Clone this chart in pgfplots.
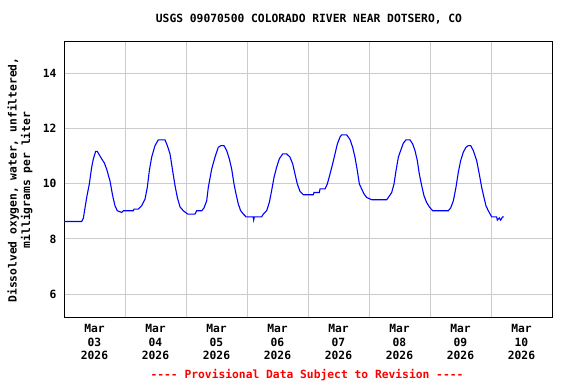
\documentclass[border=0pt]{standalone}
\usepackage{fontspec}
\usepackage{pgfplots}
\pgfplotsset{compat=1.18}
\newfontfamily\monofont{DejaVu Sans Mono}
\newcommand\mf{\monofont\bfseries\fontsize{11.3}{13.6}\selectfont}
\pgfplotstableread{
d v
0 8.63
0.29 8.63
0.317 8.75
0.372 9.5
0.415 9.99
0.454 10.6
0.481 10.9
0.519 11.17
0.546 11.17
0.590 11.0
0.661 10.75
0.699 10.53
0.754 10.1
0.798 9.56
0.836 9.2
0.874 9.02
0.945 8.96
0.973 9.02
1.137 9.02
1.148 9.08
1.219 9.08
1.273 9.2
1.328 9.44
1.366 9.87
1.399 10.47
1.437 10.96
1.492 11.38
1.546 11.59
1.656 11.59
1.694 11.38
1.738 11.08
1.781 10.47
1.820 9.93
1.858 9.5
1.902 9.16
1.956 9.02
2.027 8.9
2.148 8.9
2.175 9.02
2.257 9.02
2.295 9.12
2.339 9.38
2.366 9.87
2.421 10.53
2.475 10.96
2.530 11.32
2.574 11.38
2.623 11.38
2.667 11.2
2.710 10.9
2.749 10.53
2.787 9.99
2.820 9.63
2.858 9.26
2.896 9.02
2.940 8.9
2.984 8.8
3.10 8.8
3.11 8.68
3.12 8.8
3.240 8.8
3.268 8.9
3.322 9.02
3.366 9.32
3.404 9.75
3.443 10.23
3.486 10.6
3.530 10.9
3.585 11.08
3.650 11.08
3.705 10.96
3.749 10.72
3.787 10.35
3.825 9.99
3.869 9.72
3.924 9.6
4.087 9.6
4.098 9.68
4.186 9.68
4.197 9.81
4.279 9.81
4.317 9.99
4.361 10.35
4.404 10.72
4.443 11.08
4.481 11.44
4.525 11.69
4.552 11.77
4.634 11.77
4.689 11.6
4.732 11.32
4.770 10.96
4.809 10.47
4.842 9.99
4.880 9.81
4.918 9.63
4.962 9.5
5.044 9.42
5.290 9.42
5.317 9.5
5.372 9.68
5.410 9.99
5.443 10.47
5.481 10.96
5.519 11.2
5.563 11.47
5.607 11.59
5.672 11.59
5.716 11.44
5.754 11.2
5.792 10.84
5.825 10.35
5.864 9.93
5.902 9.56
5.945 9.32
5.989 9.16
6.044 9.02
6.300 9.02
6.339 9.12
6.383 9.38
6.426 9.87
6.464 10.41
6.503 10.84
6.546 11.14
6.590 11.32
6.628 11.38
6.667 11.38
6.710 11.2
6.765 10.84
6.808 10.35
6.847 9.87
6.885 9.5
6.918 9.2
6.956 9.02
7.011 8.8
7.093 8.8
7.104 8.68
7.137 8.76
7.158 8.68
7.191 8.8
7.213 8.8
}\dotable
\begin{document}
\begin{tikzpicture}[x=1pt,y=1pt]
\path[use as bounding box] (0,0) rectangle (576,384);
\begin{axis}[at={(64pt,67pt)}, anchor=south west, scale only axis,
  width=488pt, height=276pt,
  xmin=0, xmax=8, ymin=5.17, ymax=15.17,
  xtick={1,...,7}, xticklabels={},
  extra x ticks={0.5,1.5,...,7.5},
  extra x tick labels={{Mar\\03\\2026},{Mar\\04\\2026},{Mar\\05\\2026},{Mar\\06\\2026},{Mar\\07\\2026},{Mar\\08\\2026},{Mar\\09\\2026},{Mar\\10\\2026}},
  extra x tick style={grid=none, major tick length=0pt},
  ytick={6,8,10,12,14},
  grid=major, grid style={black!20, line width=0.8pt},
  major tick length=0pt,
  axis line style={line width=0.9pt},
  tick label style={font=\mf},
  xticklabel style={align=center, yshift=-4pt},
  yticklabel style={xshift=-4pt},
  /pgf/number format/assume math mode=true,
]
\addplot[blue, line width=1.1pt] table[x=d, y=v] {\dotable};
\end{axis}
\node[font=\mf] at (309,365) {USGS 09070500 COLORADO RIVER NEAR DOTSERO, CO};
\node[font=\mf, text=red] at (307,9) {---- Provisional Data Subject to Revision ----};
\node[font=\mf, rotate=90, align=center] at (20,204) {Dissolved oxygen, water, unfiltered,\\milligrams per liter};
\end{tikzpicture}
\end{document}
